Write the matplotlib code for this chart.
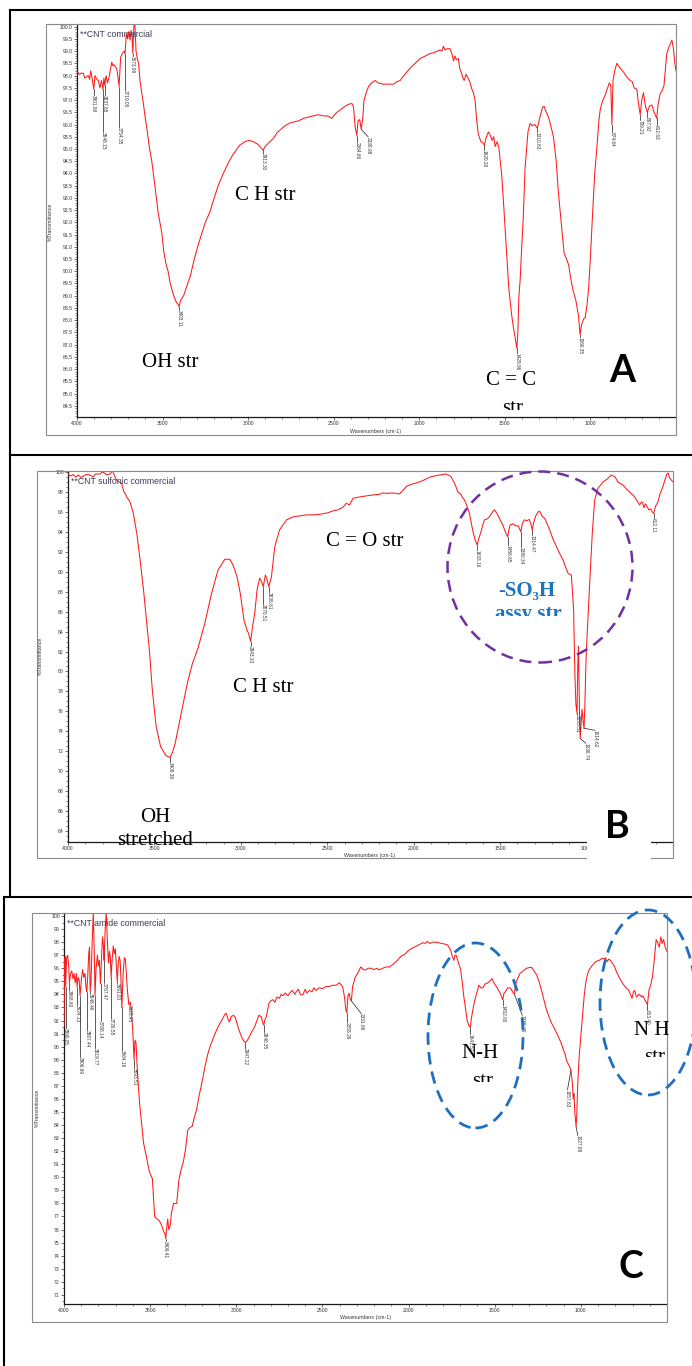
import numpy as np
import matplotlib
matplotlib.use("Agg")
import matplotlib.pyplot as plt
from matplotlib.patches import Rectangle, Ellipse
from matplotlib.lines import Line2D
from matplotlib.transforms import Bbox
from matplotlib.ticker import MultipleLocator, FormatStrFormatter

plt.rcParams['font.family'] = ['Liberation Sans', 'DejaVu Sans']

W, H = 692, 1366

# ---------------- data (wavenumber cm-1, %T) ----------------
spec_a = [
    (4000, 98.1), (3996, 98.15), (3985, 98.05), (3975, 98.1), (3963, 98.1), (3955, 97.9),
    (3945, 97.95), (3934, 98.0), (3926, 97.85), (3920, 98.2), (3912, 97.9), (3901.98, 97.45),
    (3895, 98.0), (3885, 97.85), (3875, 97.8), (3866, 97.5), (3857, 97.8), (3848.15, 97.45),
    (3843, 97.9), (3837.65, 97.6), (3830, 98.0), (3822, 97.7), (3815, 97.85), (3807, 98.15),
    (3797, 98.55), (3790, 98.4), (3785, 98.45), (3775, 98.35), (3768, 98.3), (3760, 97.9),
    (3754.35, 97.55), (3745, 98.75), (3735, 98.9), (3725, 99.0), (3719.05, 98.9), (3712, 99.7),
    (3704, 99.5), (3697, 99.8), (3690, 99.45), (3684, 99.85), (3678, 99.6), (3673.99, 98.9),
    (3668, 100.0), (3662, 100.15), (3655, 99.0), (3648, 98.7), (3640, 98.5), (3632, 97.8),
    (3622, 97.3), (3612, 96.85), (3600, 96.2), (3593, 95.9), (3578, 95.1), (3563, 94.5),
    (3544, 93.45), (3525, 92.35), (3505, 91.6), (3493, 90.8), (3480, 90.3), (3468, 90.0),
    (3455, 89.5), (3441, 89.15), (3430, 88.9), (3421, 88.75), (3410, 88.65), (3403.11, 88.55),
    (3395, 88.8), (3377, 89.0), (3358, 89.4), (3338, 89.8), (3318, 90.4), (3299, 90.9),
    (3273, 91.5), (3250, 92.0), (3225, 92.4), (3203, 92.9), (3175, 93.5), (3145, 94.0),
    (3115, 94.45), (3086, 94.8), (3050, 95.15), (3018, 95.3), (2995, 95.35), (2970, 95.3),
    (2945, 95.2), (2925, 95.05), (2913.30, 94.95), (2900, 95.1), (2872, 95.3), (2850, 95.45),
    (2833, 95.65), (2810, 95.8), (2784, 95.95), (2760, 96.05), (2736, 96.1), (2705, 96.15),
    (2677, 96.25), (2650, 96.3), (2619, 96.35), (2590, 96.4), (2560, 96.35), (2535, 96.35),
    (2511, 96.25), (2495, 96.4), (2482, 96.5), (2460, 96.6), (2444, 96.7), (2420, 96.8),
    (2404, 96.85), (2392, 96.85), (2384, 96.7), (2375, 95.9), (2364.66, 95.55), (2358, 96.15),
    (2348, 96.2), (2338.98, 95.8), (2330, 96.3), (2323, 97.0), (2310, 97.3), (2297, 97.55),
    (2280, 97.7), (2258, 97.8), (2240, 97.7), (2210, 97.65), (2180, 97.65), (2151, 97.65),
    (2130, 97.75), (2112, 97.8), (2085, 98.05), (2054, 98.3), (2025, 98.5), (1995, 98.7),
    (1965, 98.8), (1937, 98.9), (1910, 98.95), (1895, 99.0), (1878, 99.05), (1868, 99.0),
    (1859, 99.2), (1850, 99.05), (1835, 99.1), (1820, 99.1), (1808, 98.85), (1800, 98.6),
    (1791, 98.8), (1783, 98.65), (1772, 98.7), (1764, 98.3), (1758, 98.2), (1745, 97.9),
    (1738, 97.8), (1727, 98.05), (1715, 97.9), (1705, 97.75), (1693, 97.45), (1684, 97.3),
    (1674, 97.0), (1665, 96.2), (1655, 95.6), (1640, 95.3), (1628, 95.25), (1620.26, 95.15),
    (1610, 95.45), (1596, 95.7), (1585, 95.55), (1575, 95.35), (1565, 95.5), (1557, 95.1),
    (1545, 95.3), (1535, 95.05), (1518, 93.9), (1505, 92.5), (1490, 90.8), (1477, 89.3),
    (1460, 88.2), (1450, 87.7), (1440, 87.3), (1429.96, 86.85), (1424, 87.5), (1418, 89.0),
    (1411, 89.6), (1400, 91.2), (1393, 92.1), (1382, 94.2), (1365, 95.7), (1352, 96.05),
    (1340, 95.95), (1325, 96.0), (1310.83, 95.85), (1295, 96.3), (1280, 96.7), (1271, 96.75),
    (1258, 96.5), (1245, 96.3), (1230, 95.9), (1216, 95.5), (1200, 94.5), (1187, 93.2),
    (1175, 92.3), (1167, 91.7), (1154, 90.75), (1140, 90.5), (1127, 90.25), (1115, 89.7),
    (1101, 89.2), (1085, 88.8), (1070, 88.2), (1060.35, 87.4), (1052, 87.8), (1040, 88.05),
    (1031, 88.1), (1020, 88.6), (1010, 89.35), (1000, 90.6), (990, 92.0), (975, 94.0),
    (963, 95.0), (950, 96.2), (943, 96.6), (930, 96.95), (914, 97.2), (900, 97.5),
    (890, 97.7), (881, 97.6), (874.64, 96.0), (868, 97.8), (858, 98.2), (846, 98.5),
    (825, 98.3), (807, 98.15), (788, 97.95), (768, 97.8), (755, 97.75), (745, 97.5),
    (729, 97.45), (720, 96.9), (709.21, 96.4), (700, 97.0), (690, 97.3), (680, 96.8),
    (667.92, 96.5), (655, 96.75), (641, 96.8), (628, 96.5), (612.63, 96.25), (605, 96.8),
    (593, 97.25), (580, 97.4), (570, 97.6), (554, 98.9), (540, 99.2), (524, 99.45),
    (515, 99.1), (505, 98.4), (500, 98.2),
]
peaks_a = ['3901.98', '3848.15', '3837.65', '3754.35', '3719.05', '3673.99', '3403.11',
           '2913.30', '2364.66', '2338.98', '1620.26', '1429.96', '1310.83', '1060.35',
           '874.64', '709.21', '667.92', '612.63']
tops_a = [97.2, 95.7, 97.2, 95.9, 97.4, 98.8, 88.4, 94.85, 95.3, 95.5, 94.95, 86.65, 95.7,
          87.3, 95.7, 96.17, 96.3, 95.97]
shift_a = {'2338.98': -40}

spec_b = [
    (4000, 99.8), (3985, 99.6), (3970, 99.75), (3955, 99.5), (3940, 99.7), (3925, 99.45),
    (3911, 99.6), (3895, 99.75), (3874, 99.7), (3855, 99.5), (3840, 99.8), (3815, 99.8),
    (3800, 100.0), (3792, 99.93), (3775, 99.7), (3758, 99.8), (3745, 100.05), (3739, 100.0),
    (3728, 99.5), (3719, 99.2), (3705, 99.0), (3690, 98.87), (3683, 98.4), (3676, 98.0),
    (3668, 97.8), (3660, 97.5), (3641, 97.0), (3622, 95.86), (3602, 93.85), (3583, 91.2),
    (3563, 88.16), (3544, 84.8), (3530, 82.3), (3512, 78.1), (3490, 74.5), (3465, 72.5),
    (3435, 71.6), (3420, 71.45), (3409.38, 71.4), (3395, 71.9), (3380, 72.8), (3345, 75.8),
    (3310, 78.8), (3280, 80.8), (3247, 82.4), (3209, 84.8), (3170, 87.8), (3132, 90.17),
    (3093, 91.25), (3064, 91.25), (3045, 90.67), (3022, 89.5), (3003, 87.8), (2982, 85.15),
    (2965, 84.15), (2955, 83.8), (2943.33, 83.0), (2934, 84.3), (2920, 85.8), (2906, 88.2),
    (2891, 89.35), (2880, 89.0), (2870.51, 88.5), (2858, 89.67), (2848, 89.2), (2838.61, 88.5),
    (2823, 89.5), (2804, 92.5), (2776, 94.2), (2736, 95.2), (2698, 95.5), (2660, 95.6),
    (2621, 95.7), (2580, 95.7), (2544, 95.75), (2500, 95.9), (2467, 96.1), (2440, 96.2),
    (2410, 96.46), (2390, 96.86), (2371, 96.7), (2351, 97.36), (2313, 97.5), (2275, 97.6),
    (2236, 97.7), (2200, 97.75), (2180, 97.9), (2158, 97.86), (2120, 97.9), (2082, 97.8),
    (2060, 98.2), (2040, 98.6), (2024, 98.7), (1995, 98.85), (1967, 99.0), (1940, 99.2),
    (1909, 99.47), (1880, 99.6), (1851, 99.7), (1830, 99.75), (1813, 99.8), (1800, 99.7),
    (1784, 99.53), (1774, 99.2), (1764, 98.87), (1755, 98.5), (1745, 98.0), (1735, 97.9),
    (1725, 97.7), (1716, 97.4), (1706, 97.2), (1690, 96.5), (1678, 95.86), (1668, 95.0),
    (1659, 94.18), (1645, 93.2), (1633.16, 92.68), (1622, 93.4), (1611, 94.0), (1600, 94.7),
    (1591, 95.2), (1575, 95.3), (1562, 95.5), (1548, 95.9), (1533, 96.2), (1524, 96.0),
    (1514, 95.7), (1500, 95.2), (1485, 94.7), (1470, 94.0), (1456.65, 93.5), (1448, 94.3),
    (1442, 94.7), (1425, 94.8), (1410, 94.6), (1395, 94.6), (1388, 94.3), (1380.34, 94.0),
    (1372, 94.8), (1360, 95.2), (1345, 95.1), (1332, 95.25), (1322, 94.8), (1314.47, 94.18),
    (1305, 95.0), (1294, 95.6), (1280, 96.0), (1271, 96.06), (1258, 95.6), (1242, 95.35),
    (1228, 94.8), (1213, 94.18), (1195, 93.3), (1174, 92.5), (1155, 91.8), (1136, 91.17),
    (1118, 90.3), (1107, 89.84), (1088, 89.67), (1075, 86.2), (1068, 80.0), (1062, 76.8),
    (1055.51, 75.8), (1051, 80.5), (1047, 82.5), (1043, 78.5), (1039.5, 74.5), (1036.74, 73.3),
    (1031, 75.0), (1026, 76.2), (1020, 75.0), (1014.62, 74.3), (1010, 76.5), (1005, 80.0),
    (1001, 82.15), (982, 88.84), (967, 93.85), (953, 97.2), (934, 98.37), (905, 99.0),
    (880, 99.3), (857, 99.7), (835, 99.5), (819, 99.0), (790, 98.7), (770, 98.3),
    (751, 98.0), (722, 97.5), (700, 96.9), (693, 96.7), (682, 97.0), (675, 96.9),
    (668, 96.4), (660, 96.8), (655, 96.7), (640, 96.2), (630, 96.3), (620, 96.0),
    (612.11, 95.86), (600, 96.6), (587, 97.0), (575, 97.8), (559, 98.5), (545, 99.3),
    (535, 99.8), (528, 99.9), (520, 99.4), (510, 99.2), (500, 99.0),
]
peaks_b = ['3409.38', '2943.33', '2870.51', '2838.61', '1633.16', '1456.65', '1380.34',
           '1314.47', '1055.51', '1036.74', '1014.62', '612.11']
tops_b = [70.95, 82.6, 86.8, 88.0, 92.2, 92.7, 92.5, 93.7, 75.6, 72.8, 74.1, 95.4]
shift_b = {'1036.74': -32, '1014.62': -62}

spec_c = [
    (4000, 91.6), (3997, 96.2), (3993, 96.9), (3990.05, 94.6), (3985, 96.8), (3978, 97.0),
    (3972, 96.0), (3968.60, 94.9), (3962, 95.6), (3955, 95.8), (3948, 95.2), (3942, 95.6),
    (3935, 94.9), (3928, 95.6), (3924.13, 94.6), (3918, 95.3), (3912, 95.1), (3906.69, 93.9),
    (3900, 95.0), (3892, 95.9), (3885, 95.3), (3878, 95.6), (3872, 94.5), (3867.44, 94.2),
    (3862, 95.5), (3856, 97.2), (3852, 97.6), (3848.46, 94.3), (3843, 95.0), (3836, 98.2),
    (3830, 100.3), (3824, 97.0), (3819.77, 93.9), (3814, 96.0), (3806, 97.0), (3800, 96.2),
    (3795, 96.6), (3788.14, 94.8), (3782, 97.0), (3776, 98.4), (3770, 97.5), (3767.47, 96.6),
    (3761, 99.0), (3755, 100.3), (3748, 98.0), (3742, 96.4), (3736, 97.3), (3731, 96.8),
    (3726.55, 95.3), (3721, 96.6), (3714, 97.7), (3708, 97.1), (3702, 97.5), (3697, 96.3),
    (3691.00, 95.0), (3686, 96.2), (3680, 96.9), (3674, 96.6), (3670, 95.3), (3664.16, 93.0),
    (3657, 95.5), (3650, 96.8), (3644, 96.7), (3638, 95.6), (3632, 94.3), (3623.45, 93.2),
    (3615, 93.4), (3608, 92.6), (3600, 91.0), (3593.51, 89.0), (3588, 90.5), (3582, 90.3),
    (3576, 88.6), (3568, 86.9), (3560, 85.5), (3538, 82.6), (3525, 81.8), (3504, 80.4),
    (3487, 79.9), (3474, 77.0), (3460, 76.8), (3448, 76.7), (3436, 76.4), (3428, 76.1),
    (3420, 75.8), (3414, 75.7), (3409.41, 75.3), (3404, 76.1), (3398, 76.8), (3392, 76.0),
    (3384, 76.3), (3376, 77.3), (3364, 78.0), (3346, 78.0), (3333, 79.8), (3320, 80.6),
    (3307, 81.2), (3295, 82.1), (3282, 83.6), (3270, 83.8), (3256, 83.9), (3243, 84.6),
    (3230, 85.2), (3218, 86.1), (3205, 86.9), (3193, 87.7), (3178, 88.7), (3164, 89.5),
    (3150, 90.1), (3135, 90.6), (3120, 91.1), (3106, 91.5), (3090, 91.9), (3077, 92.2),
    (3065, 92.5), (3058, 92.55), (3050, 92.2), (3045, 92.0), (3039, 91.9), (3030, 92.3),
    (3015, 92.4), (3005, 92.2), (2996, 91.8), (2985, 91.3), (2971, 90.8), (2960, 90.5),
    (2947.22, 90.3), (2935, 90.5), (2923, 90.8), (2908, 91.2), (2894, 91.5), (2880, 92.0),
    (2869, 92.4), (2855, 92.3), (2848, 91.9), (2840.35, 91.65), (2833, 92.1), (2826, 92.3),
    (2818, 92.8), (2811, 93.3), (2800, 93.5), (2788, 93.6), (2775, 93.4), (2765, 93.8),
    (2750, 93.7), (2740, 94.0), (2730, 93.9), (2715, 94.1), (2700, 93.9), (2691, 94.1),
    (2675, 94.3), (2660, 94.0), (2652, 94.2), (2640, 94.4), (2628, 94.0), (2614, 93.95),
    (2600, 94.4), (2590, 94.1), (2575, 94.3), (2560, 94.2), (2550, 94.5), (2537, 94.3),
    (2520, 94.5), (2499, 94.45), (2480, 94.6), (2460, 94.6), (2440, 94.7), (2421, 94.7),
    (2410, 94.8), (2402, 94.9), (2390, 94.7), (2383, 94.6), (2372, 93.8), (2364, 92.8),
    (2358.26, 92.6), (2352, 93.9), (2345, 94.1), (2338, 93.6), (2331.86, 93.5), (2325, 94.6),
    (2310, 95.3), (2296, 95.6), (2277, 96.1), (2262, 95.9), (2248, 95.87), (2235, 96.0),
    (2219, 96.0), (2200, 95.9), (2185, 96.0), (2171, 95.87), (2150, 96.0), (2130, 96.1),
    (2113, 96.1), (2090, 96.3), (2065, 96.6), (2045, 96.9), (2020, 97.1), (1997, 97.4),
    (1970, 97.6), (1955, 97.7), (1939, 97.8), (1920, 97.95), (1905, 97.9), (1891, 98.05),
    (1875, 97.9), (1860, 98.0), (1843, 98.0), (1825, 97.95), (1804, 97.9), (1790, 97.85),
    (1775, 97.8), (1765, 97.6), (1756, 97.4), (1746, 96.9), (1737, 96.6), (1730, 97.0),
    (1724, 97.0), (1712, 96.5), (1698, 95.9), (1688, 94.9), (1679, 93.8), (1668, 92.8),
    (1660, 92.0), (1650, 91.6), (1641.52, 91.5), (1635, 92.2), (1630, 92.6), (1620, 93.3),
    (1611, 93.8), (1600, 94.3), (1592, 94.7), (1580, 94.5), (1569, 94.5), (1556, 94.8),
    (1544, 94.85), (1530, 95.0), (1515, 95.2), (1505, 94.9), (1496, 94.7), (1485, 94.5),
    (1477, 94.3), (1465, 94.0), (1457, 93.7), (1452.60, 93.6), (1446, 94.1), (1438, 94.2),
    (1425, 94.5), (1410, 94.5), (1400, 94.3), (1392, 94.1), (1385.09, 94.0), (1381, 94.7),
    (1368, 95.2), (1353, 95.6), (1335, 95.8), (1315, 96.0), (1300, 96.05), (1286, 96.07),
    (1272, 95.8), (1257, 95.5), (1243, 95.0), (1228, 94.3), (1213, 93.5), (1199, 92.8),
    (1185, 92.3), (1170, 91.8), (1150, 91.3), (1132, 90.8), (1115, 90.3), (1100, 89.7),
    (1093, 89.5), (1082, 88.9), (1074, 88.7), (1066, 88.5), (1057.63, 88.2), (1050, 87.3),
    (1044, 86.0), (1040, 86.4), (1035, 85.0), (1030, 84.2), (1027.88, 83.9), (1024, 84.6),
    (1020, 86.4), (1015, 88.0), (1010, 89.2), (1000, 90.8), (991, 92.3), (980, 94.0),
    (972, 94.85), (962, 95.5), (953, 95.87), (935, 96.2), (914, 96.5), (895, 96.6),
    (876, 96.76), (865, 96.7), (857, 96.8), (848, 96.5), (838, 96.7), (828, 96.6),
    (818, 96.4), (809, 96.25), (795, 95.8), (780, 95.36), (765, 95.0), (751, 94.72),
    (737, 94.5), (723, 94.34), (712, 94.0), (703, 93.7), (695, 94.2), (688, 94.3),
    (680, 93.9), (675, 93.8), (665, 94.0), (656, 93.95), (648, 93.8), (640, 93.9),
    (630, 93.6), (620, 93.4), (613.40, 93.2), (605, 94.3), (595, 94.7), (585, 95.3),
    (575, 96.5), (563, 98.2), (555, 98.0), (545, 97.6), (536, 98.4), (528, 97.9),
    (520, 98.2), (510, 97.6), (500, 97.3),
]
peaks_c = ['3990.05', '3968.60', '3924.13', '3906.69', '3867.44', '3848.46', '3819.77',
           '3788.14', '3767.47', '3726.55', '3691.00', '3664.16', '3623.45', '3593.51',
           '3409.41', '2947.22', '2840.35', '2358.26', '2331.86', '1641.52', '1452.60',
           '1385.09', '1057.63', '1027.88', '613.40']
tops_c = [91.4, 94.3, 93.2, 89.2, 91.3, 94.1, 89.9, 92.0, 94.9, 92.2, 94.9, 89.75, 93.2,
          88.4, 75.1, 89.9, 91.15, 91.9, 92.55, 91.0, 93.2, 92.4, 86.7, 83.2, 92.8]
shift_c = {'2331.86': -56, '1385.09': -45, '1057.63': 20, '1027.88': -10}

# ---------------- figure ----------------
fig = plt.figure(figsize=(W / 100, H / 100), dpi=100)


def fx(x):
    return x / W


def fy(y):
    return 1 - y / H


def ftext(x, y, s, clip=None, **kw):
    t = fig.text(fx(x), fy(y), s, **kw)
    if clip is not None:
        t.set_clip_box(Bbox.from_extents(0, H - clip, W, H))
        t.set_clip_on(True)
    return t


def hline(y, x0, x1, **kw):
    fig.add_artist(Line2D([fx(x0), fx(x1)], [fy(y), fy(y)], transform=fig.transFigure, **kw))


def vline(x, y0, y1, **kw):
    fig.add_artist(Line2D([fx(x), fx(x)], [fy(y0), fy(y1)], transform=fig.transFigure, **kw))


def frame(x0, y0, x1, y1):
    fig.add_artist(Rectangle((fx(x0), fy(y1)), (x1 - x0) / W, (y1 - y0) / H,
                             transform=fig.transFigure, fill=False, ec='#8a8a8a', lw=0.8))


def panel(box, spec, ylim, ystep, yminor, yfmt, peaks, tops, shifts, title):
    left, top, right, bottom = box
    ax = fig.add_axes([fx(left), fy(bottom), (right - left) / W, (bottom - top) / H])
    ax.patch.set_alpha(0)
    wave = np.array([p[0] for p in spec])
    trans = np.array([p[1] for p in spec])
    ax.plot(wave, trans, color='#ff1a1a', lw=0.75, zorder=3)
    ax.set_xlim(4000, 500)
    ax.set_ylim(*ylim)
    ax.set_xticks([4000, 3500, 3000, 2500, 2000, 1500, 1000])
    ax.xaxis.set_minor_locator(MultipleLocator(100))
    lo = np.ceil(ylim[0] / ystep) * ystep
    ax.set_yticks(np.arange(lo, 100.0001, ystep))
    ax.yaxis.set_major_formatter(FormatStrFormatter(yfmt))
    ax.yaxis.set_minor_locator(MultipleLocator(yminor))
    for s in ('top', 'right'):
        ax.spines[s].set_visible(False)
    for s in ('left', 'bottom'):
        ax.spines[s].set_linewidth(0.9)
        ax.spines[s].set_color('#1a1a1a')
    ax.tick_params(which='major', length=2.2, width=0.5, labelsize=3.7, pad=0.8,
                   colors='#333333')
    ax.tick_params(which='minor', length=1.2, width=0.4, colors='#333333')
    xs, ys = wave[::-1], trans[::-1]
    for s, t in zip(peaks, tops):
        w = float(s)
        wl = w + shifts.get(s, 0)
        tp = np.interp(w, xs, ys)
        ax.plot([w, wl], [tp, t], color='#1a1a1a', lw=0.5, zorder=2)
        ax.text(wl, t, s, rotation=-90, ha='center', va='top', fontsize=3.4,
                color='#333333', zorder=4)
    ax.text(0.005, 0.985, title, transform=ax.transAxes, ha='left', va='top',
            fontsize=6.3, color='#3c3c58')
    return ax


# outer black borders
bk = dict(color='black', lw=1.5)
hline(10, 10, 692, **bk)
vline(10, 10, 897, **bk)
hline(455, 10, 692, **bk)
hline(897, 4, 692, **bk)
vline(4, 897, 1366, **bk)

# grey chart frames
frame(46, 24, 676, 435)
frame(37, 471, 673, 858)
frame(32, 913, 667, 1322)

panel((77, 24, 676, 417), spec_a, (84.04, 100.11), 0.5, 0.1, '%.1f',
      peaks_a, tops_a, shift_a, '**CNT commercial')
panel((68, 471, 673, 842), spec_b, (62.9, 100.1), 2, 0.5, '%d',
      peaks_b, tops_b, shift_b, '**CNT sulfonic commercial')
panel((64, 913, 667, 1304), spec_c, (70.3, 100.23), 1, 0.5, '%d',
      peaks_c, tops_c, shift_c, '**CNT amide commercial')

small = dict(fontsize=3.8, color='#333333', ha='center', va='center')
ftext(376, 431, 'Wavenumbers (cm-1)', **small)
ftext(370, 855, 'Wavenumbers (cm-1)', **small)
ftext(365, 1318, 'Wavenumbers (cm-1)', **small)
ftext(50, 222, '%Transmittance', rotation=90, **small)
ftext(40, 656, '%Transmittance', rotation=90, **small)
ftext(37, 1108, '%Transmittance', rotation=90, **small)

# annotations (serif)
serif = dict(family=['Liberation Serif', 'DejaVu Serif'], fontsize=15, color='black',
             ha='center', va='baseline', zorder=6)
ftext(170, 367, 'OH str', **serif)
ftext(265, 200, 'C H str', **serif)
ftext(511, 385, 'C = C', **serif)
ftext(513, 413, 'str', clip=410, **serif)

ftext(365, 546, 'C = O str', **serif)
ftext(263, 692, 'C H str', **serif)
ftext(155, 822, 'OH', **serif)
ftext(155, 845, 'stretched', **serif)
blue_b = dict(serif, color='#1f74bd', fontweight='bold')
ftext(527, 596, '-SO\u2083H', **blue_b)
ftext(528, 619, 'assy str', clip=616, **blue_b)

ftext(480, 1058, 'N-H', **serif)
ftext(483, 1086, 'str', clip=1082, **serif)
ftext(652, 1035, 'N H', **serif)
ftext(655, 1062, 'str', clip=1057, **serif)

# dashed ellipses
fig.add_artist(Ellipse((fx(540), fy(567)), 185 / W, 191 / H, transform=fig.transFigure,
                       fill=False, ec='#7030a0', lw=1.8, ls=(0, (4.8, 2.8)), zorder=5))
for cx, cy, ew, eh in [(475.5, 1035.5, 95, 185), (648, 1002.5, 96, 185)]:
    fig.add_artist(Ellipse((fx(cx), fy(cy)), ew / W, eh / H, transform=fig.transFigure,
                           fill=False, ec='#1f6fc0', lw=2.0, ls=(0, (4.5, 2.6)), zorder=5))

# panel letters
letter = dict(family=['Lato', 'DejaVu Sans'], fontweight='bold', fontsize=27,
              color='black', ha='center', va='baseline', zorder=7)
ftext(622, 382, 'A', **letter)
fig.add_artist(Rectangle((fx(587), fy(862)), 64 / W, 50 / H, transform=fig.transFigure,
                         fc='white', ec='none', zorder=6))
ftext(617, 838, 'B', **letter)
ftext(631, 1278, 'C', **letter)

fig.savefig('out.png', dpi=100)
